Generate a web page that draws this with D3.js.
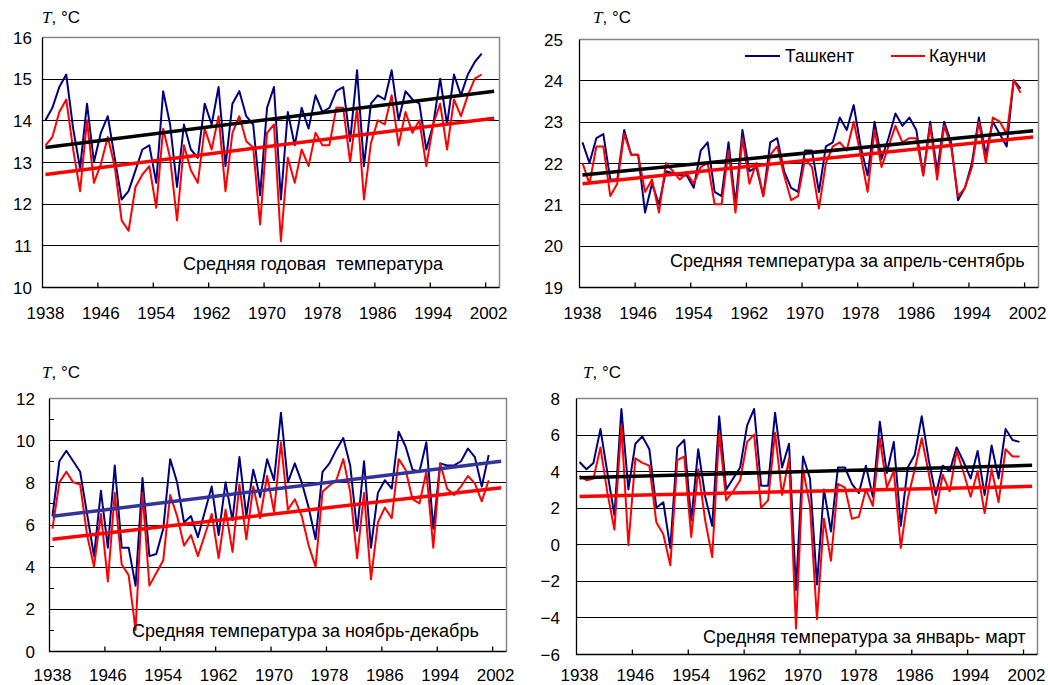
<!DOCTYPE html>
<html>
<head>
<meta charset="utf-8">
<script src="https://cdn.jsdelivr.net/npm/d3@7"></script>
<style>
  html, body { margin: 0; padding: 0; background: #fff; }
  svg { display: block; font-family: Arial, "Liberation Sans", sans-serif; }
</style>
</head>
<body>
<svg id="chart" width="1048" height="685"></svg>
<script>
// Years of observation (one value per year in every series)
const years = d3.range(1938, 2002);
const tickYears = [1938, 1946, 1954, 1962, 1970, 1978, 1986, 1994, 2002];

// Mean annual temperature, °C
const tashkentAnnual = [
  14.0, 14.3, 14.8, 15.1, 13.8, 12.85, 14.4, 13.0, 13.7, 14.1,
  13.1, 12.1, 12.3, 12.8, 13.3, 13.4, 12.5, 14.7, 13.9, 12.4,
  13.9, 13.3, 13.1, 14.4, 13.9, 14.8, 12.9, 14.4, 14.7, 14.1,
  13.9, 12.2, 14.3, 14.8, 12.1, 14.2, 13.4, 14.3, 13.8, 14.6,
  14.2, 14.3, 14.7, 14.8, 13.5, 15.2, 12.9, 14.4, 14.6, 14.5,
  15.2, 14.0, 14.7, 14.5, 14.4, 13.3, 13.9, 15.0, 13.9, 15.1,
  14.6, 15.1, 15.4, 15.6
];
const kaunchiAnnual = [
  13.4, 13.6, 14.2, 14.5, 13.3, 12.3, 14.0, 12.5, 12.95, 13.6,
  12.9, 11.6, 11.35, 12.4, 12.7, 12.9, 11.9, 13.8, 13.1, 11.6,
  13.4, 12.8, 12.5, 13.8, 13.3, 14.1, 12.3, 13.7, 14.1, 13.5,
  13.35, 11.5, 13.7, 13.9, 11.1, 13.1, 12.5, 13.3, 12.9, 13.7,
  13.4, 13.4, 14.3, 14.3, 13.0, 14.3, 12.1, 13.45, 14.0, 13.9,
  14.6, 13.4, 14.2, 13.7, 14.0, 12.9, 13.9, 14.4, 13.3, 14.5,
  14.1, 14.6, 15.0, 15.1
];

// Mean temperature April–September, °C
const tashkentWarm = [
  22.5, 22.0, 22.6, 22.7, 21.6, 21.6, 22.8, 22.2, 22.2, 20.8,
  21.5, 21.0, 21.8, 21.75, 21.7, 21.7, 21.4, 22.3, 22.5, 21.3,
  21.2, 22.5, 21.0, 22.8, 21.8, 21.9, 21.2, 22.5, 22.6, 21.8,
  21.4, 21.3, 22.3, 22.3, 21.3, 22.4, 22.5, 23.1, 22.8, 23.4,
  22.4, 21.7, 23.0, 22.1, 22.6, 23.2, 22.9, 23.1, 22.8, 21.7,
  23.0, 21.8, 23.0, 22.5, 21.1, 21.4, 22.0, 23.1, 22.2, 23.0,
  22.7, 22.4, 24.0, 23.8
];
const kaunchiWarm = [
  22.0, 21.5, 22.4, 22.4, 21.2, 21.5, 22.7, 22.2, 22.2, 21.3,
  21.6, 20.8, 22.0, 21.8, 21.6, 21.75, 21.5, 21.9, 22.0, 21.0,
  21.0, 22.3, 20.8, 22.6, 21.5, 22.0, 21.2, 22.2, 22.4, 21.7,
  21.1, 21.2, 22.1, 21.9, 20.9, 22.0, 22.4, 22.5, 22.3, 23.0,
  22.2, 21.3, 22.8, 21.9, 22.4, 22.9, 22.5, 22.6, 22.6, 21.7,
  22.9, 21.6, 22.9, 22.4, 21.2, 21.4, 21.9, 23.0, 22.0, 23.1,
  23.0, 22.7, 24.0, 23.7
];

// Mean temperature November–December, °C
const tashkentNovDec = [
  6.4, 9.0, 9.5, 9.0, 8.5, 6.5, 4.5, 7.6, 4.9, 8.8,
  4.9, 4.9, 3.1, 8.2, 4.5, 4.6, 5.8, 9.1, 8.0, 6.1,
  6.4, 5.4, 6.6, 7.8, 5.5, 8.0, 6.2, 9.2, 6.4, 8.6,
  7.3, 9.1, 8.1, 11.3, 8.0, 8.9, 8.0, 6.8, 5.3, 8.5,
  8.9, 9.55, 10.1, 8.8, 5.7, 9.0, 4.9, 7.5, 8.1, 7.7,
  10.4, 9.7, 8.6, 8.5, 9.9, 5.8, 8.9, 8.8, 8.8, 9.0,
  9.6, 9.2, 7.8, 9.3
];
const kaunchiNovDec = [
  5.8, 8.0, 8.5, 8.0, 7.9, 5.5, 4.0, 6.5, 3.3, 7.5,
  4.1, 3.6, 1.0, 7.5, 3.1, 3.7, 4.3, 7.4, 6.4, 5.0,
  5.5, 4.5, 5.5, 6.5, 4.4, 6.7, 4.7, 7.9, 5.3, 7.8,
  6.3, 8.3, 6.6, 9.9, 6.7, 7.2, 6.4, 5.0, 4.0, 7.55,
  7.85, 8.1, 9.1, 7.55, 4.4, 7.5, 3.4, 6.1, 6.8, 6.3,
  9.1, 8.6, 7.2, 7.0, 8.5, 4.9, 8.9, 7.7, 7.4, 7.8,
  8.3, 7.95, 7.1, 8.1
];

// Mean temperature January–March, °C
const tashkentJanMar = [
  4.5, 4.1, 4.45, 6.3, 3.9, 1.6, 7.4, 3.0, 5.5, 5.9,
  5.2, 2.0, 2.3, -0.2, 5.3, 5.7, 1.3, 5.2, 2.6, 1.0,
  7.0, 3.0, 3.6, 4.2, 6.5, 7.4, 3.2, 3.2, 7.2, 4.2,
  5.5, -2.5, 4.8, 3.6, -2.2, 3.0, 0.7, 4.2, 4.2, 3.3,
  2.8, 4.3, 2.6, 6.7, 3.9, 5.6, 1.0, 4.2, 4.9, 7.0,
  4.6, 2.7, 4.3, 4.0, 5.3, 4.5, 3.6, 5.1, 2.7, 5.4,
  3.6, 6.3, 5.7, 5.6
];
const kaunchiJanMar = [
  3.75, 3.5, 3.6, 5.3, 2.8, 0.8, 6.5, -0.05, 4.7, 4.45,
  4.3, 1.2, 0.55, -1.15, 4.6, 4.8, 0.4, 4.1, 1.3, -0.7,
  6.1, 2.4, 2.9, 3.5, 5.6, 6.0, 2.0, 2.4, 6.1, 2.7,
  4.7, -4.6, 4.1, 2.1, -4.1, 1.4, -0.9, 3.3, 3.1, 1.4,
  1.5, 3.0, 2.1, 5.8, 3.1, 4.0, -0.2, 2.5, 4.1, 5.8,
  3.9, 1.7, 3.8, 2.9, 5.1, 3.9, 2.6, 4.0, 1.7, 4.1,
  2.3, 5.2, 4.8, 4.8
];

// Linear trend values (°C) at the start and end of each trend line, per panel
const trendYears = [1938.5, 2003.3];
const trendTashkent = [[13.35, 14.7], [21.71, 22.78], [6.39, 9.0], [3.64, 4.32]];
const trendKaunchi = [[12.7, 14.05], [21.5, 22.63], [5.3, 7.74], [2.62, 3.17]];

const seriesNames = ["Ташкент", "Каунчи"];
const titles = [
  "Средняя годовая\u00a0 температура",
  "Средняя температура за апрель-сентябрь",
  "Средняя температура за ноябрь-декабрь",
  "Средняя температура за январь- март"
];

const BLUE = "#000080", RED = "#ff0000";

// Panel layout: plot box, y range, label placement
const panels = [
  { a: tashkentAnnual, b: kaunchiAnnual, title: titles[0],
    box: { l: 42, r: 499, t: 37, b: 287 }, y: [10, 16], step: 1, minor: false,
    gap: 10, unit: [42, 23], titlePos: [183, 270], xLab: 319, trendA: "#000" },
  { a: tashkentWarm, b: kaunchiWarm, title: titles[1],
    box: { l: 579, r: 1038, t: 39, b: 287 }, y: [19, 25], step: 1, minor: false,
    gap: 16, unit: [593, 23], titlePos: [670, 267], xLab: 319, trendA: "#000", legend: true },
  { a: tashkentNovDec, b: kaunchiNovDec, title: titles[2],
    box: { l: 49, r: 506, t: 398, b: 651 }, y: [0, 12], step: 2, minor: true,
    gap: 14, unit: [42, 378], titlePos: [132, 637], xLab: 681, trendA: "#333399" },
  { a: tashkentJanMar, b: kaunchiJanMar, title: titles[3],
    box: { l: 576, r: 1037, t: 398, b: 654 }, y: [-6, 8], step: 2, minor: false,
    gap: 16, unit: [583, 378], titlePos: [703, 643], xLab: 681, trendA: "#000" }
];

const svg = d3.select("#chart");

panels.forEach((p, pi) => {
  const B = p.box;
  const g = svg.append("g");
  const x = d3.scaleLinear().domain([1938, 1938 + 66]).range([B.l, B.r]);
  const y = d3.scaleLinear().domain(p.y).range([B.b, B.t]);
  const yTicks = d3.range(p.y[0], p.y[1] + 0.001, p.step);

  // horizontal gridlines
  g.append("g").selectAll("line").data(yTicks.slice(1, -1)).join("line")
    .attr("x1", B.l).attr("x2", B.r)
    .attr("y1", d => Math.round(y(d)) + 0.5).attr("y2", d => Math.round(y(d)) + 0.5)
    .attr("stroke", "#000").attr("stroke-width", 1);

  // frame: grey top/right, black axes left/bottom
  g.append("path")
    .attr("d", `M${B.l + 0.5},${B.t + 0.5}H${B.r + 0.5}V${B.b + 0.5}`)
    .attr("fill", "none").attr("stroke", "#868686").attr("stroke-width", 1.5);
  g.append("path")
    .attr("d", `M${B.l + 0.5},${B.t + 0.5}V${B.b + 0.5}H${B.r + 0.5}`)
    .attr("fill", "none").attr("stroke", "#000").attr("stroke-width", 1.3);

  // y axis labels
  const yAxis = d3.axisLeft(y).tickValues(yTicks).tickSize(0).tickPadding(p.gap)
    .tickFormat(d3.format("d"));
  const ya = g.append("g").attr("transform", `translate(${B.l},0)`).call(yAxis);
  ya.select(".domain").remove();
  ya.selectAll("text").attr("font-size", 17).attr("font-family", "Arial, 'Liberation Sans', sans-serif")
    .attr("fill", "#000").attr("dy", "0.36em");

  // minor ticks on y axis
  if (p.minor) {
    const mt = d3.range(p.y[0] + p.step / 2, p.y[1], p.step);
    g.append("g").selectAll("line").data(mt).join("line")
      .attr("x1", B.l).attr("x2", B.l + 5)
      .attr("y1", d => Math.round(y(d)) + 0.5).attr("y2", d => Math.round(y(d)) + 0.5)
      .attr("stroke", "#000").attr("stroke-width", 1);
  }

  // x axis: inward ticks at boundaries, labels at year centres
  const xAxis = d3.axisBottom(x).tickValues(tickYears.slice(1)).tickSizeInner(-5).tickSizeOuter(0)
    .tickFormat("");
  const xa = g.append("g").attr("transform", `translate(0,${B.b + 0.5})`).call(xAxis);
  xa.select(".domain").remove();
  xa.selectAll("line").attr("stroke", "#000").attr("stroke-width", 1.3);
  g.append("g").selectAll("text").data(tickYears).join("text")
    .attr("x", d => x(d + 0.5)).attr("y", p.xLab)
    .attr("text-anchor", "middle").attr("font-size", 17).text(d => d);

  // series lines
  const line = vals => d3.line().x((_, i) => x(years[i] + 0.5)).y(v => y(v))(vals);
  g.append("path").attr("d", line(p.a)).attr("fill", "none")
    .attr("stroke", BLUE).attr("stroke-width", 2).attr("stroke-linejoin", "round");
  g.append("path").attr("d", line(p.b)).attr("fill", "none")
    .attr("stroke", RED).attr("stroke-width", 2).attr("stroke-linejoin", "round");

  // linear trends
  [[trendTashkent[pi], p.trendA], [trendKaunchi[pi], RED]].forEach(([tv, col]) => {
    g.append("line")
      .attr("x1", x(trendYears[0])).attr("y1", y(tv[0]))
      .attr("x2", x(trendYears[1])).attr("y2", y(tv[1]))
      .attr("stroke", col).attr("stroke-width", 3.5);
  });

  // unit label
  const u = g.append("text").attr("x", p.unit[0]).attr("y", p.unit[1]).attr("font-size", 17);
  u.append("tspan").attr("font-family", "'Liberation Serif', 'Times New Roman', serif")
    .attr("font-style", "italic").text("T");
  u.append("tspan").text(", °C");

  // panel title
  g.append("text").attr("x", p.titlePos[0]).attr("y", p.titlePos[1])
    .attr("font-size", 18).text(p.title);

  // legend
  if (p.legend) {
    const items = [
      { name: seriesNames[0], col: BLUE, x0: 745, x1: 780, tx: 785 },
      { name: seriesNames[1], col: RED, x0: 891, x1: 925, tx: 929 }
    ];
    const lg = g.append("g");
    items.forEach(it => {
      lg.append("line").attr("x1", it.x0).attr("x2", it.x1).attr("y1", 56).attr("y2", 56)
        .attr("stroke", it.col).attr("stroke-width", 2);
      lg.append("text").attr("x", it.tx).attr("y", 62).attr("font-size", 17.5).text(it.name);
    });
  }
});
</script>
</body>
</html>
